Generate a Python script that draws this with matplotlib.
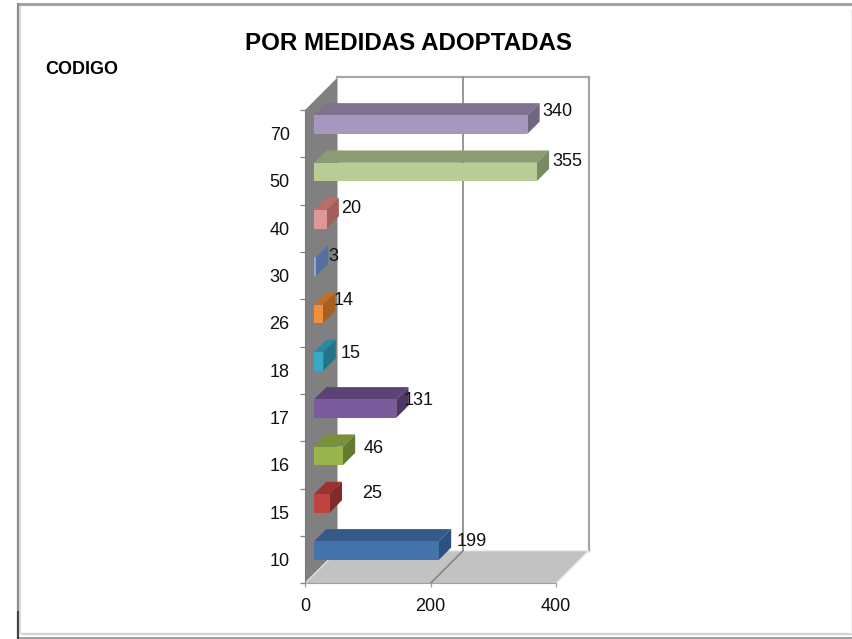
"""Recreate the POR MEDIDAS ADOPTADAS pseudo-3D bar chart."""
import matplotlib
matplotlib.use("Agg")
import matplotlib.pyplot as plt
from matplotlib.lines import Line2D
from matplotlib.patches import Polygon

plt.rcParams["font.family"] = ["Liberation Sans", "DejaVu Sans"]

# Data, bottom to top
CODES = ["10", "15", "16", "17", "18", "26", "30", "40", "50", "70"]
VALUES = [199, 25, 46, 131, 15, 14, 3, 20, 355, 340]
X_TICKS = [0, 200, 400]

FRONT = ["#4573AB", "#BF4340", "#98B54C", "#7A5B9C", "#36A9C6",
         "#F0903C", "#8FA8D2", "#DD9795", "#B7CD95", "#A697BF"]
TOP = ["#345A8A", "#9B3331", "#77913A", "#5D4278", "#2A88A0",
       "#C26F28", "#6580B0", "#B96E6C", "#8C9C72", "#7F7390"]
SIDE = ["#2C5080", "#822A28", "#637A30", "#4E3767", "#237488",
        "#A85F20", "#56709E", "#A25F5D", "#7A8A62", "#70667F"]

# label nudges in pixels from the end of each bar (x) and bar centre (y)
LABEL_DX = [5, 20, 8, -5, 5, -1, 0, 2, 3.5, 2.5]
LABEL_DY = [9.5, 10, 7, 8.5, 8, 13, 10.5, 11, 10, 13]

W, H = 853, 639
AX_L, AX_R, AX_T, AX_B = 305, 556, 110, 583.3
DEPTH_PX = 32.5
BAR_Z0 = 9 / DEPTH_PX
BAR_DZ = 12.3 / DEPTH_PX
BAR_W = 0.39

fig = plt.figure(figsize=(W / 100, H / 100), dpi=100, facecolor="white")
ax = fig.add_axes([AX_L / W, 1 - AX_B / H, (AX_R - AX_L) / W, (AX_B - AX_T) / H])
ax.set_xlim(0, 400)
ax.set_ylim(0, len(CODES))
ax.patch.set_visible(False)

DEPTH_X = DEPTH_PX * 400 / (AX_R - AX_L)
DEPTH_Y = DEPTH_PX * len(CODES) / (AX_B - AX_T)


def proj(x, y, z):
    return (x + z * DEPTH_X, y + z * DEPTH_Y)


def face(points, color, edge="none", lw=0.0, z=2):
    ax.add_patch(Polygon([proj(*p) for p in points], closed=True, facecolor=color,
                         edgecolor=edge, linewidth=lw, zorder=z, clip_on=False))


def wall_line(p0, p1, color="#A6A6A6", lw=1.6, z=1.5):
    a, b = proj(*p0), proj(*p1)
    ax.add_line(Line2D([a[0], b[0]], [a[1], b[1]], color=color, lw=lw, zorder=z,
                       clip_on=False, solid_capstyle="projecting"))


n = len(CODES)
# walls
face([(0, 0, 1), (400, 0, 1), (400, n, 1), (0, n, 1)], "white", z=1)
face([(0, 0, 0), (0, 0, 1), (0, n, 1), (0, n, 0)], "#808080", z=1.2)
face([(0, 0, 0), (400, 0, 0), (400, 0, 1), (0, 0, 1)], "#C2C2C2", z=1.2)
wall_line((0, n, 1), (400, n, 1))
wall_line((400, 0, 1), (400, n, 1))
wall_line((200, 0, 1), (200, n, 1), color="#8F8F8F", lw=1.3)
wall_line((0, 0, 1), (400, 0, 1), color="#D0D0D0", lw=1.0)
wall_line((200, 0, 0), (200, 0, 1), color="#808080", lw=1.1)
wall_line((400, 0, 0), (400, 0, 1), color="#E4E4E4", lw=1.0)
wall_line((0, 0, 0), (0, 0, 1), color="#E0E0E0", lw=1.0)

# bars
for i, (val, code) in enumerate(zip(VALUES, CODES)):
    y0 = i + (1 - BAR_W) / 2
    y1 = y0 + BAR_W
    z0, z1 = BAR_Z0, BAR_Z0 + BAR_DZ
    face([(0, y1, z0), (val, y1, z0), (val, y1, z1), (0, y1, z1)], TOP[i])
    face([(val, y0, z0), (val, y0, z1), (val, y1, z1), (val, y1, z0)], SIDE[i])
    face([(0, y0, z0), (val, y0, z0), (val, y1, z0), (0, y1, z0)], FRONT[i])
    # anchor sits at the back of the bar, so take the depth back out of the nudge
    ax.annotate(str(val), xy=proj(val, (y0 + y1) / 2, z1), xycoords="data",
                xytext=(LABEL_DX[i], LABEL_DY[i] - DEPTH_PX * BAR_DZ),
                textcoords="offset pixels", fontsize=13, color="#111111",
                ha="left", va="center", zorder=5, annotation_clip=False)

# axes
ax.set_xticks(X_TICKS)
ax.set_xticklabels([str(v) for v in X_TICKS], fontsize=13, color="#111111")
ax.set_yticks(range(n + 1))
ax.set_yticks([i + 0.5 for i in range(n)], labels=CODES, minor=True, fontsize=13, color="#111111")
ax.set_yticklabels([])
ax.tick_params(axis="y", which="major", length=3.5, width=0.9, color="#808080", direction="out")
ax.tick_params(axis="y", which="minor", length=0, pad=11)
ax.tick_params(axis="x", length=3, width=0.9, color="#A0A0A0", pad=7.5)
for name, sp in ax.spines.items():
    if name == "left":
        sp.set_color("#7A7A7A")
    elif name == "bottom":
        sp.set_color("#A0A0A0")
    else:
        sp.set_visible(False)

fig.text(408.5 / W, 1 - 43.5 / H, "POR MEDIDAS ADOPTADAS", fontsize=17.4, fontweight="bold",
         ha="center", va="center", color="black")
fig.text(45 / W, 1 - 69 / H, "CODIGO", fontsize=13, fontweight="bold",
         ha="left", va="center", color="black")


# outer picture frame
def frame(x0, y0, x1, y1, color, lw):
    fig.add_artist(Line2D([x0 / W, x1 / W], [1 - y0 / H, 1 - y1 / H], color=color, lw=lw,
                          solid_capstyle="butt"))


frame(17, 4, W, 4, "#A3A3A3", 2.2)
frame(18.5, 3, 18.5, 611, "#8C8C8C", 1.6)
frame(18.5, 611, 18.5, H, "#404040", 1.6)
frame(20.5, 6, 20.5, 634, "#D8D8D8", 1.5)
frame(21, 634, W, 634, "#D4D4D4", 1.6)
frame(19, 637.5, W, 637.5, "#8E8E8E", 1.2)
frame(852, 10, 852, 634, "#EBEBEB", 1.2)

fig.savefig("out.png", dpi=100)
